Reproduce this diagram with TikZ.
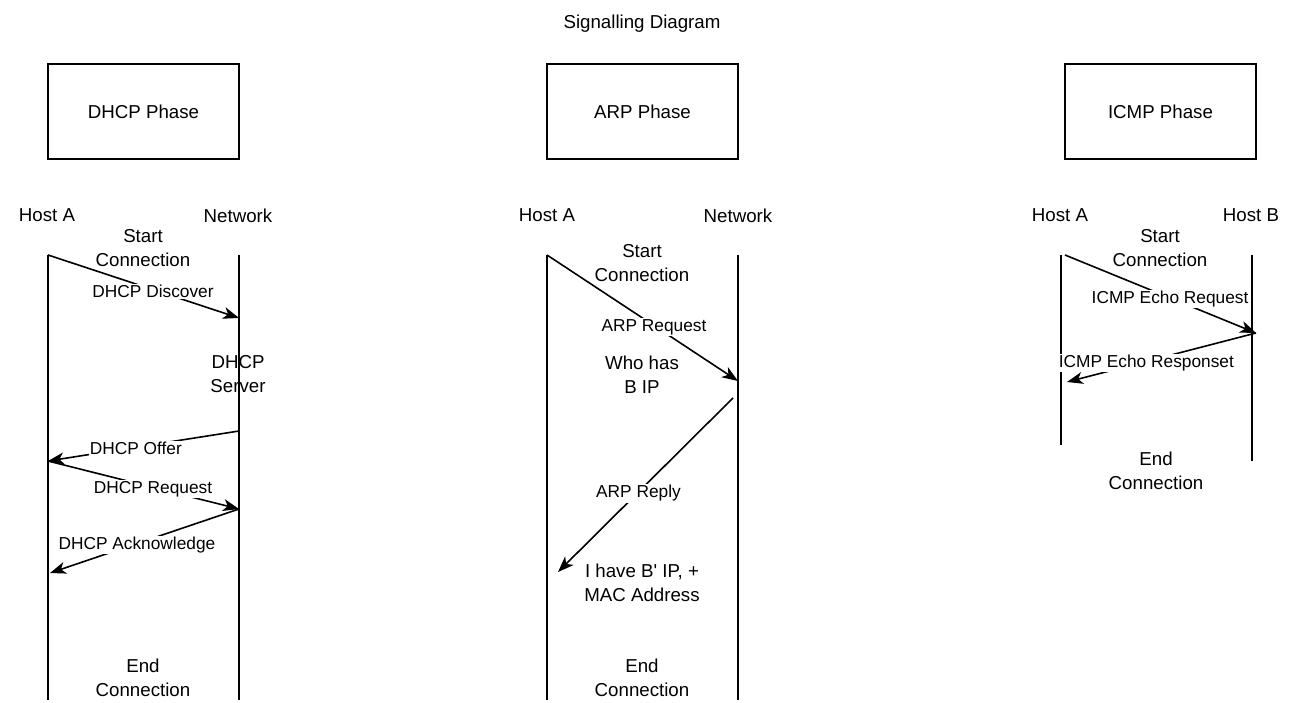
\documentclass[tikz,border=0pt]{standalone}
\usepackage{fontspec}
\setmainfont{Liberation Sans}
\usetikzlibrary{arrows.meta}
\tikzset{
  font=\fontsize{18.7}{24}\selectfont,
  phase/.style = {
    draw,
    line width=1.3pt,
    minimum width=191pt,
    minimum height=95pt
  },
  lifeline/.style = {line width=1.6pt},
  msg/.style = {
    line width=1.6pt,
    -{Stealth[length=16pt,width=12pt,inset=4.5pt]}
  },
  msglabel/.style = {
    fill=white,
    inner sep=1pt,
    pos=0.55,
    yshift=-1.5pt,
    font=\fontsize{17.3}{21}\selectfont
  },
  note/.style = {
    align=center,
    inner sep=0pt,
    yshift=-1.5pt
  }
}

\begin{document}
\begin{tikzpicture}[x=1pt,y=-1pt]
  \useasboundingbox (0,0) rectangle (1300,703);

  \node[note] (title) at (642,22) {Signalling Diagram};

  % phases
  \node[phase] (dhcp) at (143.5,111.5) {DHCP Phase};
  \node[phase] (arp) at (642.5,111.5) {ARP Phase};
  \node[phase] (icmp) at (1160.5,111.5) {ICMP Phase};

  % DHCP
  \node[note] (dhcpA) at (47,214) {Host A};
  \node[note] (dhcpN) at (238,214) {Network};
  \node[note] (dhcpStart) at (143,247) {Start\\Connection};
  \node[note] (dhcpEnd) at (143,676) {End\\Connection};
  \node[note] (dhcpServer) at (238,373) {DHCP\\Server};
  \coordinate (dhcp1) at (48,255);
  \coordinate (dhcp2) at (239,318);
  \coordinate (dhcp3) at (239,431);
  \coordinate (dhcp4) at (48,461);
  \coordinate (dhcp5) at (239,509);
  \coordinate (dhcp6) at (50,573);
  \coordinate (dhcpAend) at (48,700);
  \coordinate (dhcpNtop) at (239,255);
  \coordinate (dhcpNend) at (239,700);
  \draw[lifeline] (dhcp1) -- (dhcpAend);
  \draw[lifeline] (dhcpNtop) -- (dhcpNend);
  \draw[msg] (dhcp1) -- node[msglabel] {DHCP Discover} (dhcp2);
  \draw[msg] (dhcp3) -- node[msglabel, pos=0.54] {DHCP Offer} (dhcp4);
  \draw[msg] (dhcp4) -- node[msglabel] {DHCP Request} (dhcp5);
  \draw[msg] (dhcp5) -- node[msglabel, pos=0.54] {DHCP Acknowledge} (dhcp6);

  % ARP
  \node[note] (arpA) at (547,214) {Host A};
  \node[note] (arpN) at (738,214) {Network};
  \node[note] (arpStart) at (642,262) {Start\\Connection};
  \node[note] (arpEnd) at (642,676) {End\\Connection};
  \node[note] (arpWho) at (642,373) {Who has\\B IP};
  \node[note] (arpHave) at (642,581) {I have B\textquotesingle{} IP, +\\MAC Address};
  \coordinate (arp1) at (547,255);
  \coordinate (arp2) at (738,381);
  \coordinate (arp3) at (733,398);
  \coordinate (arp4) at (558,572);
  \coordinate (arpAend) at (547,700);
  \coordinate (arpNtop) at (738,255);
  \coordinate (arpNend) at (738,700);
  \draw[lifeline] (arp1) -- (arpAend);
  \draw[lifeline] (arpNtop) -- (arpNend);
  \draw[msg] (arp1) -- node[msglabel, pos=0.56] {ARP Request} (arp2);
  \draw[msg] (arp3) -- node[msglabel, pos=0.54] {ARP Reply} (arp4);

  % ICMP
  \node[note] (icmpA) at (1060,214) {Host A};
  \node[note] (icmpB) at (1251,214) {Host B};
  \node[note] (icmpStart) at (1160,247) {Start\\Connection};
  \node[note] (icmpEnd) at (1156,469) {End\\Connection};
  \coordinate (icmpAtop) at (1061,255);
  \coordinate (icmpAend) at (1061,445);
  \coordinate (icmpBtop) at (1252,255);
  \coordinate (icmpBend) at (1252,461);
  \coordinate (icmp1) at (1065,255);
  \coordinate (icmp2) at (1256,333);
  \coordinate (icmp3) at (1067,382);
  \draw[lifeline] (icmpAtop) -- (icmpAend);
  \draw[lifeline] (icmpBtop) -- (icmpBend);
  \draw[msg] (icmp1) -- node[msglabel] {ICMP Echo Request} (icmp2);
  \draw[msg] (icmp2) -- node[msglabel, pos=0.58] {ICMP Echo Responset} (icmp3);
\end{tikzpicture}
\end{document}
